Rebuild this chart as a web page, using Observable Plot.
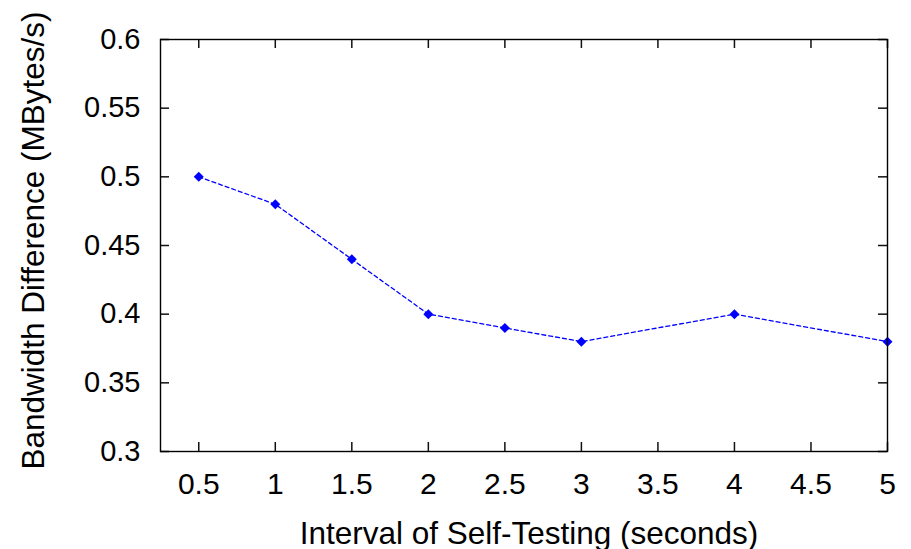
<!DOCTYPE html>
<html>
<head>
<meta charset="utf-8">
<script src="https://cdn.jsdelivr.net/npm/d3@7"></script>
<script src="https://cdn.jsdelivr.net/npm/@observablehq/plot@0.6"></script>
<style>
  html, body { margin: 0; padding: 0; background: #fff; }
  #chart svg { display: block; }
</style>
</head>
<body>
<div id="chart"></div>
<script>
const intervals = [0.5, 1, 1.5, 2, 2.5, 3, 4, 5];
const bandwidthDiff = [0.50, 0.48, 0.44, 0.40, 0.39, 0.38, 0.40, 0.38];
const xTicks = [0.5, 1, 1.5, 2, 2.5, 3, 3.5, 4, 4.5, 5];
const yTicks = [0.3, 0.35, 0.4, 0.45, 0.5, 0.55, 0.6];
const xLabel = "Interval of Self-Testing (seconds)";
const yLabel = "Bandwidth Difference (MBytes/s)";

const data = intervals.map((x, i) => ({x, y: bandwidthDiff[i]}));

const W = 911, H = 549, mL = 160, mR = 24, mT = 39, mB = 98;
const plotW = W - mL - mR, plotH = H - mT - mB, tickLen = 9;
const tickStyle = {stroke: "#111", strokeWidth: 1.5};

const chart = Plot.plot({
  width: W,
  height: H,
  marginLeft: mL,
  marginRight: mR,
  marginTop: mT,
  marginBottom: mB,
  style: {fontFamily: "'Liberation Sans', Arial, sans-serif", color: "#000", background: "#fff"},
  x: {domain: [0.25, 5], axis: null},
  y: {domain: [0.3, 0.6], axis: null},
  marks: [
    Plot.line(data, {x: "x", y: "y", stroke: "#0000ff", strokeWidth: 1.3, strokeDasharray: "4,3"}),
    Plot.dot(data, {x: "x", y: "y", symbol: "diamond2", r: 4.5, fill: "#0000ff", stroke: "none"}),
    // inward ticks on all four sides
    Plot.ruleX(xTicks, {x: d => d, insetTop: plotH - tickLen, ...tickStyle}),
    Plot.ruleX(xTicks, {x: d => d, insetBottom: plotH - tickLen, ...tickStyle}),
    Plot.ruleY(yTicks, {y: d => d, insetRight: plotW - tickLen, ...tickStyle}),
    Plot.ruleY(yTicks, {y: d => d, insetLeft: plotW - tickLen, ...tickStyle}),
    // tick labels
    Plot.axisX(xTicks, {anchor: "bottom", tickSize: 0, tickPadding: 21, fontSize: 30, label: null, tickFormat: d => String(d), fill: "#000"}),
    Plot.axisY(yTicks, {anchor: "left", tickSize: 0, tickPadding: 20, fontSize: 29, label: null, tickFormat: d => String(d), fill: "#000"}),
    Plot.frame({stroke: "#000", strokeWidth: 1.4}),
    // axis titles
    Plot.text([xLabel], {frameAnchor: "bottom", text: d => d, dy: 92, dx: 5, lineAnchor: "bottom", textAnchor: "middle", fontSize: 31.5, fill: "#000"}),
    Plot.text([yLabel], {frameAnchor: "left", text: d => d, rotate: -90, dx: -117, dy: -5, lineAnchor: "bottom", textAnchor: "middle", fontSize: 31.5, fill: "#000"})
  ]
});
document.getElementById("chart").appendChild(chart);
</script>
</body>
</html>
